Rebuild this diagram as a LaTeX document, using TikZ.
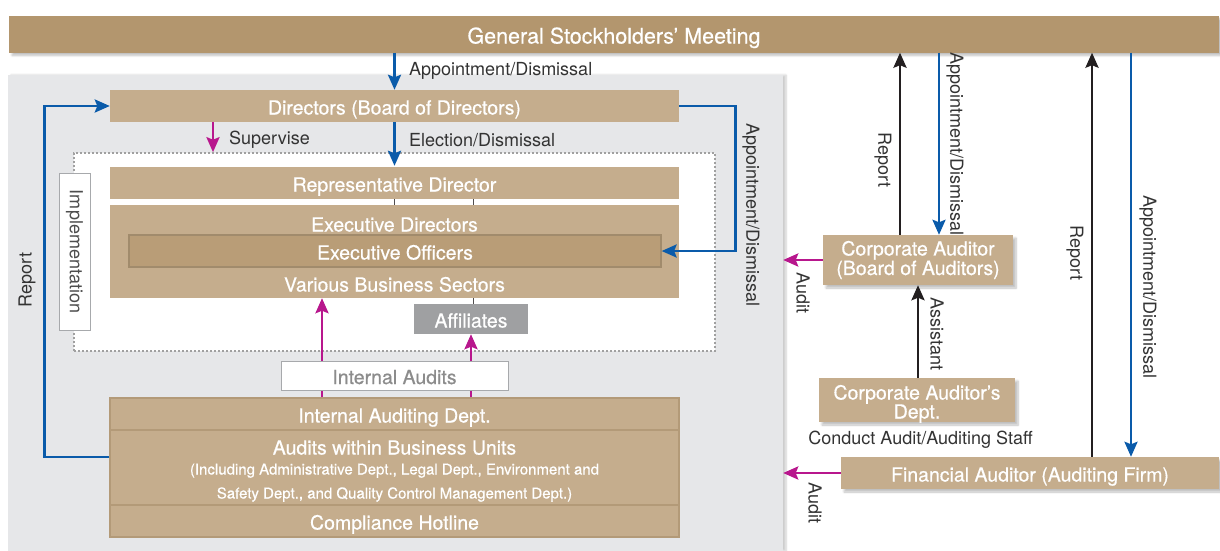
\documentclass[tikz,border=0pt]{standalone}
\usepackage{fontspec}
\setmainfont{TeX Gyre Heros}
\newfontfamily\medfam[FakeBold=0.5]{TeX Gyre Heros}
\usetikzlibrary{arrows.meta,shadows,shadows.blur}
\definecolor{tanTop}{HTML}{B3966E}
\definecolor{tanBox}{HTML}{C5AD8D}
\definecolor{tanIn}{HTML}{B99D77}
\definecolor{tanLine}{HTML}{B39A78}
\definecolor{panelGray}{HTML}{E6E7E9}
\definecolor{affGray}{HTML}{9FA0A2}
\definecolor{edgeGray}{HTML}{A7A9AC}
\definecolor{dotGray}{HTML}{A0A0A0}
\definecolor{arrBlue}{HTML}{0A5BAA}
\definecolor{arrMag}{HTML}{B8178D}
\definecolor{arrBlack}{HTML}{231F20}
\definecolor{lblCol}{HTML}{333333}
\definecolor{implCol}{HTML}{4D4D4D}
\definecolor{iaText}{HTML}{8C8C8C}
\newcommand\topfnt{\medfam\fontsize{21.5}{24}\selectfont}
\newcommand\boxfnt{\medfam\fontsize{19.5}{19.5}\selectfont}
\newcommand\lblfnt{\fontsize{18}{20}\selectfont}
\newcommand\smlfnt{\medfam\fontsize{15}{18}\selectfont}
\begin{document}
\begin{tikzpicture}[x=1pt,y=-1pt,
  one/.style={text height=17pt, text depth=0pt},
  tanbox/.style={fill=tanBox, text=white, inner sep=0pt, font=\boxfnt, align=center},
  boxtext/.style={text=white, inner sep=0pt, font=\boxfnt, one},
  lbl/.style={text=lblCol, inner sep=0pt, font=\lblfnt},
  shad/.style={blur shadow={shadow xshift=3pt, shadow yshift=-3pt, shadow opacity=25, shadow blur steps=6}},
  arr/.style={line width=2.7pt, -{Stealth[length=15pt,width=13pt,inset=2.5pt]}},
  bluearr/.style={arr, draw=arrBlue},
  magarr/.style={arr, draw=arrMag},
  blkarr/.style={arr, draw=arrBlack},
  tick/.style={draw=arrBlack!80, line width=0.8pt}
]
\useasboundingbox (0,0) rectangle (1220,550);
% background panel
\node[fill=panelGray, inner sep=0pt, minimum width=775pt, minimum height=476pt,
  blur shadow={shadow xshift=3pt, shadow yshift=0pt, shadow opacity=20, shadow blur steps=6}] (panel) at (395.5,313) {};
% top bar
\node[fill=tanTop, text=white, inner sep=0pt, minimum width=1210pt, minimum height=37pt, font=\topfnt, text height=19pt, text depth=0pt, shad] (top) at (614,34) {General Stockholders’ Meeting};
% directors
\node[tanbox, one, minimum width=569pt, minimum height=32pt] (dir) at (394.5,106) {Directors (Board of Directors)};
% dotted region
\node[fill=white, draw=dotGray, line width=1.6pt, dash pattern=on 1.6pt off 2.4pt, inner sep=0pt, minimum width=641pt, minimum height=198pt] (dotted) at (394.5,252) {};
% implementation
\node[fill=white, draw=edgeGray, line width=1pt, inner sep=0pt, minimum width=31pt, minimum height=157pt] (impl) at (74.5,251.5) {};
\node[lbl, text=implCol, rotate=-90] (impltxt) at (impl.center) {Implementation};
% representative director & executive block
\node[tanbox, one, minimum width=569pt, minimum height=32pt] (rep) at (394.5,183) {Representative Director};
\node[tanbox, minimum width=569pt, minimum height=93pt] (exec) at (394.5,251.5) {};
\node[boxtext] (execdir) at (394.5,223) {Executive Directors};
\node[fill=tanIn, draw=tanLine!90!black, line width=1.2pt, text=white, inner sep=0pt, font=\boxfnt, one, minimum width=532pt, minimum height=32pt] (officers) at (395,251) {Executive Officers};
\node[boxtext] (various) at (394.5,283) {Various Business Sectors};
% affiliates
\node[fill=affGray, text=white, inner sep=0pt, font=\boxfnt, one, minimum width=114pt, minimum height=30pt] (aff) at (471,319) {Affiliates};
% connectors inside
\coordinate (c1) at (394.5,0);
\coordinate (c2) at (473,0);
\draw[tick] (rep.south -| c1) -- (exec.north -| c1);
\draw[tick] (rep.south -| c2) -- (exec.north -| c2);
\draw[tick] (exec.south -| c2) -- (aff.north -| c2);
% bottom block
\node[tanbox, one, draw=tanLine, line width=1.2pt, minimum width=569pt, minimum height=32pt] (iad) at (394.5,414) {Internal Auditing Dept.};
\node[tanbox, draw=tanLine, line width=1.2pt, minimum width=569pt, minimum height=75pt] (abu) at (394.5,467.5) {};
\node[boxtext] (abutitle) at (394.5,446) {Audits within Business Units};
\node[boxtext, font=\smlfnt, text height=13pt] (abul1) at (394.5,468) {(Including Administrative Dept., Legal Dept., Environment and};
\node[boxtext, font=\smlfnt, text height=13pt] (abul2) at (394.5,492) {Safety Dept., and Quality Control Management Dept.)};
\node[tanbox, one, draw=tanLine, line width=1.2pt, minimum width=569pt, minimum height=32pt] (ch) at (394.5,521) {Compliance Hotline};
% magenta up arrows (behind internal audits box)
\coordinate (m1) at (322,0);
\draw[magarr] (iad.north -| m1) -- (exec.south -| m1);
\draw[magarr] (iad.north -| aff.south) -- (aff.south);
\node[fill=white, draw=edgeGray, line width=1pt, inner sep=0pt, text=iaText, font=\boxfnt, one, minimum width=227pt, minimum height=29pt] (ia) at (394.5,375.5) {Internal Audits};
% top arrows
\draw[bluearr] (top.south -| dir.north) -- (dir.north);
\node[lbl, anchor=west] (l1) at (409,71) {Appointment/Dismissal};
\coordinate (sx) at (213,0);
\draw[magarr] (dir.south -| sx) -- (dotted.north -| sx);
\node[lbl, anchor=west] (l2) at (229,140) {Supervise};
\draw[bluearr] (dir.south) -- ([yshift=1pt]rep.north);
\node[lbl, anchor=west] (l3) at (409,140) {Election/Dismissal};
% left report loop
\coordinate (ry) at (0,457);
\draw[bluearr] (abu.west |- ry) -- ++(-65,0) |- (dir.west);
\node[lbl, rotate=90] (l4) at (27,280) {Report};
% right appointment loop
\draw[bluearr] (dir.east) -- ++(56,0) |- (officers.east);
\node[lbl, rotate=-90] (l5) at (751,215) {Appointment/Dismissal};
% corporate auditor side
\node[tanbox, shad, minimum width=190pt, minimum height=50pt] (ca) at (918,260) {Corporate Auditor\\(Board of Auditors)};
\node[tanbox, shad, minimum width=196pt, minimum height=44pt] (cad) at (917,400) {};
\node[boxtext] (cadl1) at (917,391) {Corporate Auditor’s};
\node[boxtext] (cadl2) at (917,410) {Dept.};
\node[lbl] (l6) at (920.5,440) {Conduct Audit/Auditing Staff};
\node[tanbox, one, shad, minimum width=378pt, minimum height=32pt] (fa) at (1030,473) {Financial Auditor (Auditing Firm)};
\coordinate (rx1) at (900,0);
\coordinate (bx1) at (939,0);
\coordinate (ax) at (918,0);
\coordinate (rx2) at (1092,0);
\coordinate (bx2) at (1131,0);
\draw[blkarr] (ca.north -| rx1) -- (top.south -| rx1);
\draw[bluearr] (top.south -| bx1) -- (ca.north -| bx1);
\draw[magarr] (ca.west) -- (panel.east |- ca.west);
\draw[blkarr] (cad.north -| ax) -- (ca.south -| ax);
\draw[blkarr] (fa.north -| rx2) -- (top.south -| rx2);
\draw[bluearr] (top.south -| bx2) -- (fa.north -| bx2);
\draw[magarr] (fa.west) -- (panel.east |- fa.west);
\node[lbl, rotate=-90] (l7) at (883,160) {Report};
\node[lbl, rotate=-90] (l8) at (955,144) {Appointment/Dismissal};
\node[lbl, rotate=-90] (l9) at (803,293) {Audit};
\node[lbl, rotate=-90] (l10) at (937,334) {Assistant};
\node[lbl, rotate=-90] (l11) at (1075,253) {Report};
\node[lbl, rotate=-90] (l12) at (1148,287) {Appointment/Dismissal};
\node[lbl, rotate=-90] (l13) at (815,503) {Audit};
\end{tikzpicture}
\end{document}
